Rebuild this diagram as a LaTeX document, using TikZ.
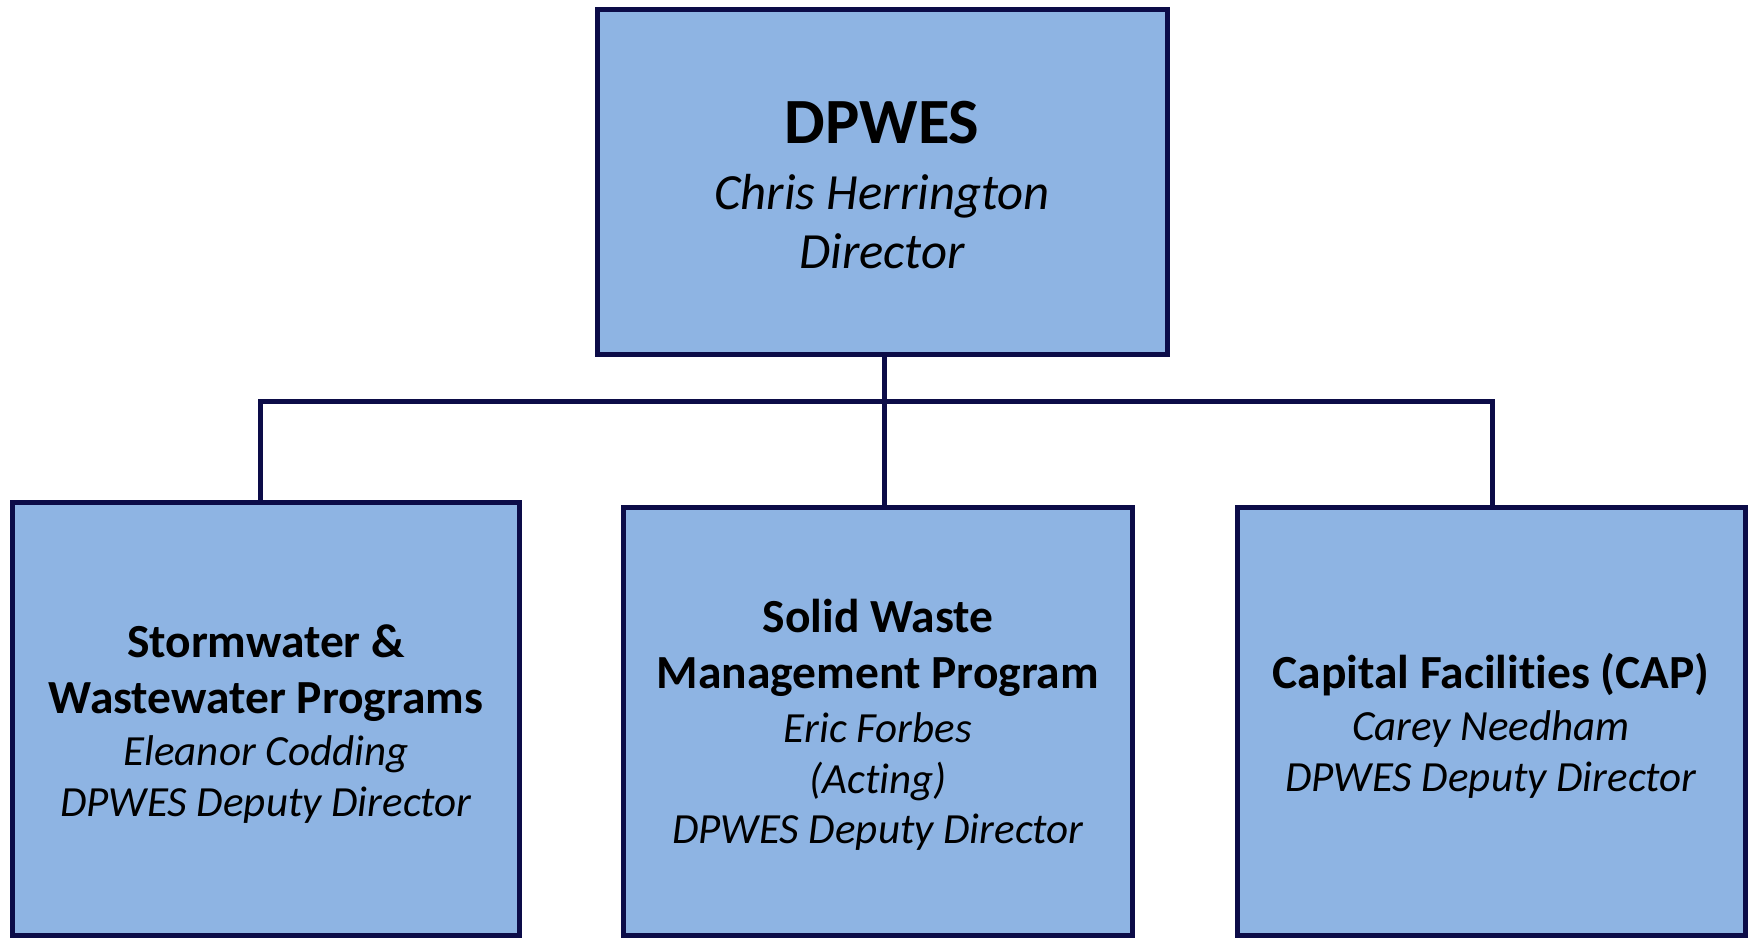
\documentclass[tikz,border=0pt]{standalone}
\usepackage{fontspec}
\setmainfont{Carlito}[Ligatures=NoCommon]
\definecolor{boxfill}{RGB}{142,180,227}
\definecolor{navy}{RGB}{12,12,72}
\begin{document}
\begin{tikzpicture}[x=1pt,y=-1pt,
  box/.style={draw=navy, fill=boxfill, line width=5pt, rectangle, inner sep=0pt},
  conn/.style={draw=navy, line width=5pt, line join=miter},
  ttl/.style={anchor=base, font=\fontsize{47.5}{56}\selectfont\bfseries, text=black, inner sep=0pt},
  sub/.style={anchor=base, font=\fontsize{43}{52}\selectfont\itshape, text=black, inner sep=0pt},
  toptl/.style={anchor=base, font=\fontsize{64.5}{72}\selectfont\bfseries, text=black, inner sep=0pt},
  topsub/.style={anchor=base, font=\fontsize{50.7}{60}\selectfont\itshape, text=black, inner sep=0pt}]
\useasboundingbox (0,0) rectangle (1754,939);
\fill[white] (0,0) rectangle (1754,939);

\node[box, minimum width=570pt, minimum height=344pt] (top) at (882,182) {};
\node[box, minimum width=507pt, minimum height=433pt] (left) at (265.5,718.5) {};
\node[box, minimum width=509pt, minimum height=428pt] (mid) at (877.5,721) {};
\node[box, minimum width=508pt, minimum height=428pt] (right) at (1491,721) {};

\coordinate (sx) at (884,401);
\coordinate (lx) at (260,401);
\coordinate (rx) at (1492,401);
\draw[conn] (sx |- top.south) -- (sx |- mid.north);
\draw[conn] (lx |- left.north) -- (lx) -- (rx) -- (rx |- right.north);

\node[toptl] (t1) at (882,144) {DPWES};
\node[topsub] (t2) at (882,209) {Chris Herrington};
\node[topsub] (t3) at (882,268) {Director};

\node[ttl] (l1) at (266,657) {Stormwater \&};
\node[ttl] (l2) at (266,713) {Wastewater Programs};
\node[sub] (l3) at (266,765) {Eleanor Codding};
\node[sub] (l4) at (266,816) {DPWES Deputy Director};

\node[ttl] (m1) at (878,632) {Solid Waste};
\node[ttl] (m2) at (878,688) {Management Program};
\node[sub] (m3) at (878,742) {Eric Forbes};
\node[sub] (m4) at (878,793) {(Acting)};
\node[sub] (m5) at (878,843) {DPWES Deputy Director};

\node[ttl] (r1) at (1491,688) {Capital Facilities (CAP)};
\node[sub] (r2) at (1491,740) {Carey Needham};
\node[sub] (r3) at (1491,791) {DPWES Deputy Director};
\end{tikzpicture}
\end{document}
